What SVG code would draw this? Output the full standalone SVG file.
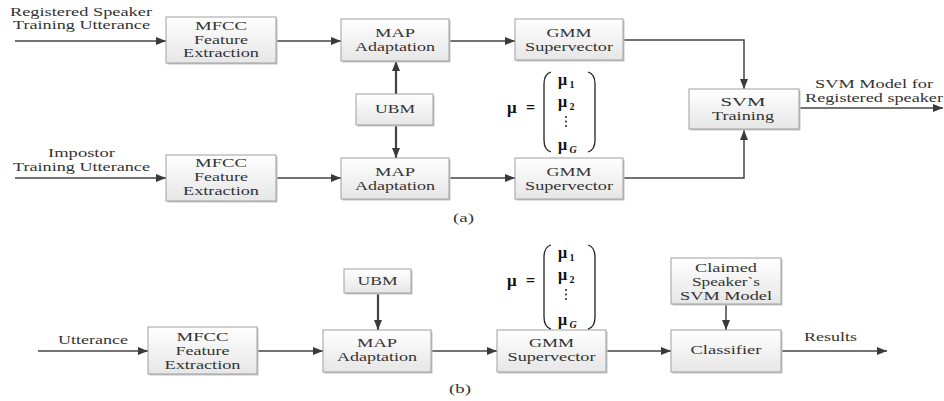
<svg xmlns="http://www.w3.org/2000/svg" width="944" height="401" viewBox="0 0 944 401">
<defs>
<linearGradient id="bg" x1="0" y1="0" x2="0" y2="1">
<stop offset="0" stop-color="#ffffff"/>
<stop offset="1" stop-color="#e6e6e6"/>
</linearGradient>
<marker id="ah" markerUnits="userSpaceOnUse" markerWidth="10" markerHeight="8" refX="10" refY="4" orient="auto">
<path d="M0,0 L10,4 L0,8 z" fill="#3a3a3a"/>
</marker>
</defs>
<style>
.box{fill:url(#bg);stroke:#a0a0a0;stroke-width:1}
.sh{fill:#c4c4c4}
.t{font-family:'Liberation Serif','DejaVu Serif','Noto Serif',serif;font-size:12px;fill:#333;text-anchor:middle}
.c{fill:none;stroke:#444;stroke-width:1.5;marker-end:url(#ah)}
.cb{fill:none;stroke:#444;stroke-width:2.2;marker-end:url(#ah)}
.m{font-family:'Liberation Serif','DejaVu Serif','Noto Serif',serif;font-weight:bold;fill:#111}
.p{fill:none;stroke:#222;stroke-width:1.3}
</style>
<rect width="944" height="401" fill="#ffffff"/>

<g id="connectors">
<path class="c" d="M15,41 H166"/>
<path class="c" d="M276,41 H341"/>
<path class="c" d="M449,41 H515"/>
<path class="c" d="M623,40 H744 V89"/>
<path class="cb" d="M396,94 V61"/>
<path class="cb" d="M396,125 V158"/>
<path class="c" d="M15,178 H166"/>
<path class="c" d="M276,178 H341"/>
<path class="c" d="M449,178 H515"/>
<path class="c" d="M623,178 H744 V130"/>
<path class="c" d="M800,108 H943"/>
<path class="c" d="M38,351 H148"/>
<path class="c" d="M257,351 H323"/>
<path class="cb" d="M378,293 V330"/>
<path class="c" d="M431,351 H497"/>
<path class="c" d="M606,351 H671"/>
<path class="c" d="M726,304 V330"/>
<path class="c" d="M781,351 H887"/>
</g>

<g id="labels">
<text class="t" x="81" y="16" textLength="142" lengthAdjust="spacingAndGlyphs">Registered Speaker</text>
<text class="t" x="81.5" y="29" textLength="137" lengthAdjust="spacingAndGlyphs">Training Utterance</text>
<text class="t" x="81.5" y="157" textLength="67" lengthAdjust="spacingAndGlyphs">Impostor</text>
<text class="t" x="81.5" y="171" textLength="137" lengthAdjust="spacingAndGlyphs">Training Utterance</text>
<text class="t" x="874" y="88" textLength="118" lengthAdjust="spacingAndGlyphs">SVM Model for</text>
<text class="t" x="874" y="102" textLength="138" lengthAdjust="spacingAndGlyphs">Registered speaker</text>
<text class="t" x="463.5" y="222" textLength="21" lengthAdjust="spacingAndGlyphs">(a)</text>
<text class="t" x="93" y="344" textLength="70" lengthAdjust="spacingAndGlyphs">Utterance</text>
<text class="t" x="830.5" y="341" textLength="53" lengthAdjust="spacingAndGlyphs">Results</text>
<text class="t" x="460" y="393" textLength="22" lengthAdjust="spacingAndGlyphs">(b)</text>
</g>

<g id="mfcc1">
<rect class="sh" x="167.5" y="18.5" width="110" height="46"/>
<rect class="box" x="166" y="17" width="110" height="46"/>
<text class="t" x="221" y="30" textLength="52" lengthAdjust="spacingAndGlyphs">MFCC</text>
<text class="t" x="221" y="44" textLength="54" lengthAdjust="spacingAndGlyphs">Feature</text>
<text class="t" x="221" y="57" textLength="76" lengthAdjust="spacingAndGlyphs">Extraction</text>
</g>
<g id="map1">
<rect class="sh" x="342.5" y="20.5" width="108" height="42"/>
<rect class="box" x="341" y="19" width="108" height="42"/>
<text class="t" x="395" y="37" textLength="40" lengthAdjust="spacingAndGlyphs">MAP</text>
<text class="t" x="395" y="51" textLength="80" lengthAdjust="spacingAndGlyphs">Adaptation</text>
</g>
<g id="gmm1">
<rect class="sh" x="516.5" y="20.5" width="108" height="41"/>
<rect class="box" x="515" y="19" width="108" height="41"/>
<text class="t" x="569" y="37" textLength="45" lengthAdjust="spacingAndGlyphs">GMM</text>
<text class="t" x="569" y="51" textLength="88" lengthAdjust="spacingAndGlyphs">Supervector</text>
</g>
<g id="ubm1">
<rect class="sh" x="357.5" y="95.5" width="77" height="31"/>
<rect class="box" x="356" y="94" width="77" height="31"/>
<text class="t" x="395" y="113" textLength="40" lengthAdjust="spacingAndGlyphs">UBM</text>
</g>
<g id="svm">
<rect class="sh" x="690.5" y="90.5" width="110" height="40"/>
<rect class="box" x="689" y="89" width="110" height="40"/>
<text class="t" x="743" y="106" textLength="45" lengthAdjust="spacingAndGlyphs">SVM</text>
<text class="t" x="743" y="120" textLength="62" lengthAdjust="spacingAndGlyphs">Training</text>
</g>
<g id="mfcc2">
<rect class="sh" x="167.5" y="156.5" width="110" height="46"/>
<rect class="box" x="166" y="155" width="110" height="46"/>
<text class="t" x="221" y="167" textLength="52" lengthAdjust="spacingAndGlyphs">MFCC</text>
<text class="t" x="221" y="181" textLength="54" lengthAdjust="spacingAndGlyphs">Feature</text>
<text class="t" x="221" y="195" textLength="76" lengthAdjust="spacingAndGlyphs">Extraction</text>
</g>
<g id="map2">
<rect class="sh" x="342.5" y="159.5" width="108" height="41"/>
<rect class="box" x="341" y="158" width="108" height="41"/>
<text class="t" x="395" y="176" textLength="40" lengthAdjust="spacingAndGlyphs">MAP</text>
<text class="t" x="395" y="190" textLength="80" lengthAdjust="spacingAndGlyphs">Adaptation</text>
</g>
<g id="gmm2">
<rect class="sh" x="516.5" y="159.5" width="108" height="41"/>
<rect class="box" x="515" y="158" width="108" height="41"/>
<text class="t" x="569" y="176" textLength="45" lengthAdjust="spacingAndGlyphs">GMM</text>
<text class="t" x="569" y="190" textLength="88" lengthAdjust="spacingAndGlyphs">Supervector</text>
</g>

<g id="mu-a">
<text class="m" x="507" y="113" font-size="17">μ</text>
<text class="m" x="526" y="113" font-size="16" font-weight="normal">=</text>
<path class="p" d="M551,72 Q544,74 544,84 V140 Q544,150 551,152"/>
<path class="p" d="M588,72 Q595,74 595,84 V140 Q595,150 588,152"/>
<text class="m" x="558" y="85" font-size="16">μ</text><text class="m" x="569.5" y="88" font-size="10" font-weight="normal">1</text>
<text class="m" x="558" y="107" font-size="16">μ</text><text class="m" x="569.5" y="110" font-size="10" font-weight="normal">2</text>
<circle cx="566" cy="117" r="1" fill="#222"/><circle cx="566" cy="121.5" r="1" fill="#222"/><circle cx="566" cy="126" r="1" fill="#222"/>
<text class="m" x="558" y="150" font-size="16">μ</text><text class="m" x="569.5" y="153" font-size="10" font-style="italic" font-weight="normal">G</text>
</g>

<g id="mfcc3">
<rect class="sh" x="149.5" y="328.5" width="109" height="47"/>
<rect class="box" x="148" y="327" width="109" height="47"/>
<text class="t" x="202.5" y="341" textLength="52" lengthAdjust="spacingAndGlyphs">MFCC</text>
<text class="t" x="202.5" y="355" textLength="54" lengthAdjust="spacingAndGlyphs">Feature</text>
<text class="t" x="202.5" y="369" textLength="76" lengthAdjust="spacingAndGlyphs">Extraction</text>
</g>
<g id="ubm2">
<rect class="sh" x="345.5" y="270.5" width="67" height="24"/>
<rect class="box" x="344" y="269" width="67" height="24"/>
<text class="t" x="377.5" y="285" textLength="40" lengthAdjust="spacingAndGlyphs">UBM</text>
</g>
<g id="map3">
<rect class="sh" x="324.5" y="331.5" width="108" height="42"/>
<rect class="box" x="323" y="330" width="108" height="42"/>
<text class="t" x="377" y="347" textLength="40" lengthAdjust="spacingAndGlyphs">MAP</text>
<text class="t" x="377" y="361" textLength="80" lengthAdjust="spacingAndGlyphs">Adaptation</text>
</g>
<g id="gmm3">
<rect class="sh" x="498.5" y="331.5" width="109" height="42"/>
<rect class="box" x="497" y="330" width="109" height="42"/>
<text class="t" x="551.5" y="347" textLength="45" lengthAdjust="spacingAndGlyphs">GMM</text>
<text class="t" x="551.5" y="361" textLength="88" lengthAdjust="spacingAndGlyphs">Supervector</text>
</g>
<g id="claimed">
<rect class="sh" x="672.5" y="259.5" width="110" height="46"/>
<rect class="box" x="671" y="258" width="110" height="46"/>
<text class="t" x="726" y="272" textLength="62" lengthAdjust="spacingAndGlyphs">Claimed</text>
<text class="t" x="726" y="286" textLength="68" lengthAdjust="spacingAndGlyphs">Speaker`s</text>
<text class="t" x="726" y="300" textLength="92" lengthAdjust="spacingAndGlyphs">SVM Model</text>
</g>
<g id="classifier">
<rect class="sh" x="672.5" y="331.5" width="110" height="42"/>
<rect class="box" x="671" y="330" width="110" height="42"/>
<text class="t" x="726" y="354" textLength="71" lengthAdjust="spacingAndGlyphs">Classifier</text>
</g>

<g id="mu-b">
<text class="m" x="507" y="286" font-size="17">μ</text>
<text class="m" x="526" y="286" font-size="16" font-weight="normal">=</text>
<path class="p" d="M551,245 Q544,247 544,257 V317 Q544,327 551,329"/>
<path class="p" d="M588,245 Q595,247 595,257 V317 Q595,327 588,329"/>
<text class="m" x="558" y="258" font-size="16">μ</text><text class="m" x="569.5" y="261" font-size="10" font-weight="normal">1</text>
<text class="m" x="558" y="280" font-size="16">μ</text><text class="m" x="569.5" y="283" font-size="10" font-weight="normal">2</text>
<circle cx="566" cy="290" r="1" fill="#222"/><circle cx="566" cy="294.5" r="1" fill="#222"/><circle cx="566" cy="299" r="1" fill="#222"/>
<text class="m" x="558" y="325" font-size="16">μ</text><text class="m" x="569.5" y="328" font-size="10" font-style="italic" font-weight="normal">G</text>
</g>
</svg>
